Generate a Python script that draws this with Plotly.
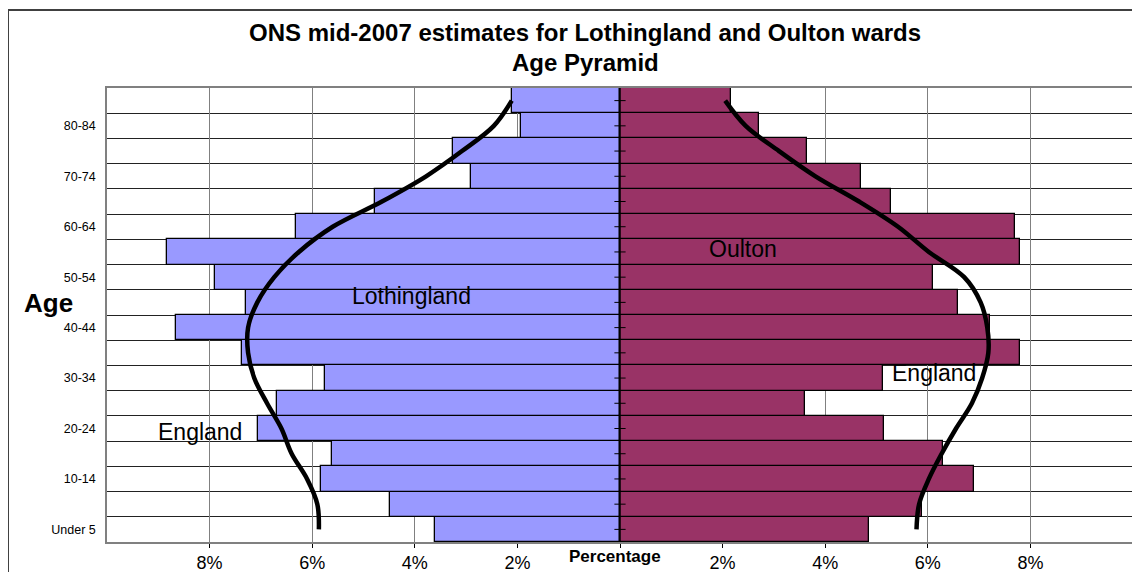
import plotly.graph_objects as go

ages = ["Under 5", "5-9", "10-14", "15-19", "20-24", "25-29", "30-34", "35-39",
        "40-44", "45-49", "50-54", "55-59", "60-64", "65-69", "70-74", "75-79",
        "80-84", "85+"]
lothingland = [3.61, 4.48, 5.83, 5.62, 7.05, 6.69, 5.76, 7.37, 8.66, 7.29,
               7.90, 8.84, 6.31, 4.78, 2.90, 3.26, 1.93, 2.11]
oulton = [4.85, 5.89, 6.90, 6.29, 5.15, 3.60, 5.13, 7.79, 7.21, 6.58,
          6.11, 7.80, 7.70, 5.28, 4.70, 3.64, 2.70, 2.16]
england_left = [5.87, 5.90, 6.10, 6.40, 6.60, 6.88, 7.13, 7.25, 7.25, 7.07,
                6.74, 6.26, 5.60, 4.64, 3.78, 3.08, 2.46, 2.11]
england_right = [5.78, 5.83, 6.02, 6.27, 6.55, 6.86, 7.06, 7.18, 7.16, 7.03,
                 6.71, 6.02, 5.42, 4.66, 3.81, 3.10, 2.45, 2.05]
x_ticks = [-8, -6, -4, -2, 0, 2, 4, 6, 8]
x_tick_text = ["8%", "6%", "4%", "2%", "", "2%", "4%", "6%", "8%"]

pos = list(range(len(ages)))
FONT = "Liberation Sans, Arial, sans-serif"

fig = go.Figure()
fig.add_trace(go.Bar(
    y=pos, x=[-v for v in lothingland], orientation="h", width=1.0,
    marker=dict(color="#9999FF", line=dict(color="black", width=1.3)),
    name="Lothingland", hoverinfo="skip"))
fig.add_trace(go.Bar(
    y=pos, x=oulton, orientation="h", width=1.0,
    marker=dict(color="#993366", line=dict(color="black", width=1.3)),
    name="Oulton", hoverinfo="skip"))
# category axis tick marks along the centre line
fig.add_trace(go.Scatter(
    x=[0] * len(pos), y=pos, mode="markers",
    marker=dict(symbol="line-ew", size=8, line=dict(color="black", width=1)),
    hoverinfo="skip"))
fig.add_trace(go.Scatter(
    x=[-v for v in england_left], y=pos, mode="lines",
    line=dict(color="black", width=4.5, shape="spline", smoothing=1.0),
    hoverinfo="skip"))
fig.add_trace(go.Scatter(
    x=england_right, y=pos, mode="lines",
    line=dict(color="black", width=4.5, shape="spline", smoothing=1.0),
    hoverinfo="skip"))

fig.update_layout(
    width=1132, height=564, barmode="overlay", bargap=0, showlegend=False,
    margin=dict(l=99, r=7, t=80, b=30, autoexpand=False),
    paper_bgcolor="white", plot_bgcolor="white",
    font=dict(family=FONT, color="black"),
    xaxis=dict(range=[-10, 10], tickvals=x_ticks, ticktext=x_tick_text,
               showgrid=True, gridcolor="#808080", gridwidth=1,
               zeroline=False, ticks="outside", ticklen=4, tickcolor="black",
               tickfont=dict(size=18, family=FONT), showline=True,
               linecolor="#808080", linewidth=1.5, mirror=True,
               automargin=False),
    yaxis=dict(range=[-0.5, len(ages) - 0.5], tickvals=pos[::2],
               ticktext=ages[::2], showgrid=False, zeroline=False,
               ticks="", tickfont=dict(size=12.5, family=FONT),
               ticklabelstandoff=7, showline=True, linecolor="#808080",
               linewidth=1.5, mirror=True, automargin=False,
               minor=dict(tick0=-0.5, dtick=1, showgrid=True,
                          gridcolor="#222222", gridwidth=1)),
)
fig.add_vline(x=0, line=dict(color="black", width=1.5), layer="above")

ann = [
    dict(text="<b>ONS mid-2007 estimates for Lothingland and Oulton wards</b>",
         x=0.466, y=1.123, font=dict(size=24)),
    dict(text="<b>Age Pyramid</b>", x=0.466, y=1.057, font=dict(size=24)),
    dict(text="<b>Age</b>", x=-0.0575, y=0.526, font=dict(size=26)),
    dict(text="<b>Percentage</b>", x=0.4955, y=-0.033, font=dict(size=17)),
]
for a in ann:
    fig.add_annotation(xref="paper", yref="paper", showarrow=False,
                       xanchor="center", yanchor="middle", **a)
for t, x, y in [("Lothingland", -4.07, 9.25), ("Oulton", 2.4, 11.12),
                ("England", -8.19, 3.86), ("England", 6.12, 6.2)]:
    fig.add_annotation(x=x, y=y, xref="x", yref="y", text=t, showarrow=False,
                       xanchor="center", yanchor="middle",
                       font=dict(size=23, family=FONT))

fig.add_shape(type="rect", xref="paper", yref="paper",
              x0=-0.0965, x1=1.02, y0=-0.1, y1=1.172,
              line=dict(color="#404040", width=2), layer="below")

fig.write_html("out.html")
